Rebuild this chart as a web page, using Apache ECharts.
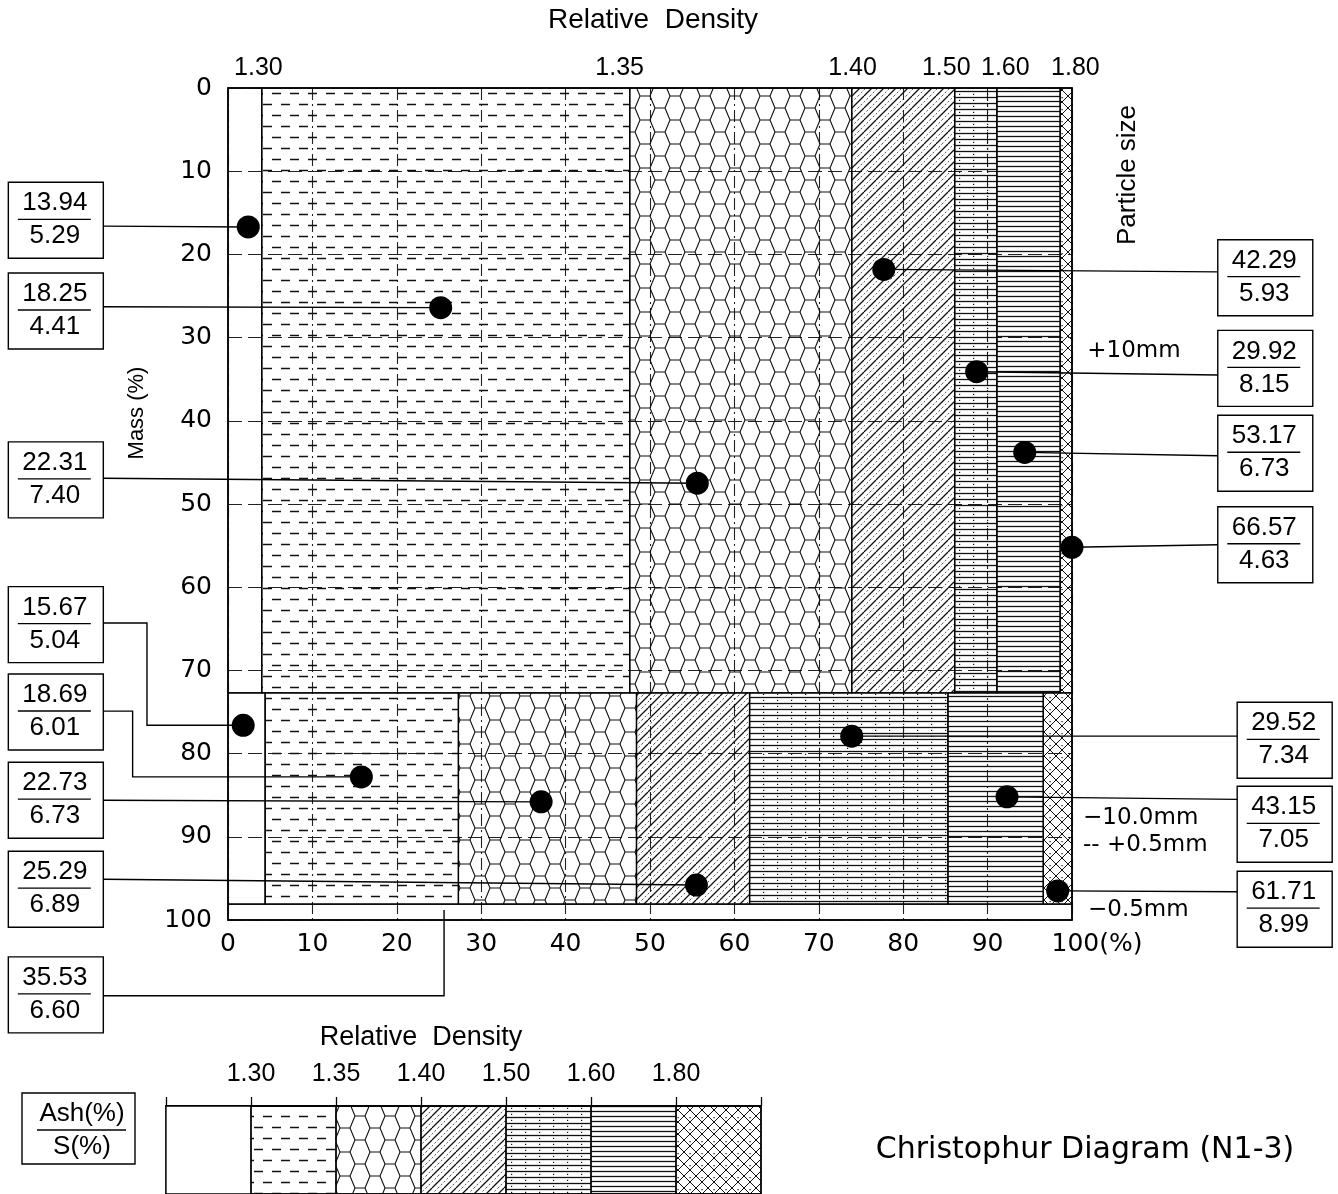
<!DOCTYPE html>
<html>
<head>
<meta charset="utf-8">
<script src="https://cdn.jsdelivr.net/npm/echarts@6/dist/echarts.min.js"></script>
<style>
  html, body { margin: 0; padding: 0; background: #fff; }
  #chart { width: 1338px; height: 1194px; }
</style>
</head>
<body>
<div id="chart"></div>
<script>
// ---- data ---------------------------------------------------------------
// Relative-density cut points
const densityLabels = ['1.30', '1.35', '1.40', '1.50', '1.60', '1.80'];
// Cumulative yield (%) at each density cut, per size class
const coarseCuts = [4.0, 47.6, 73.9, 86.1, 91.1, 98.6, 100];   // +10mm
const mediumCuts = [4.4, 27.3, 48.4, 61.8, 85.3, 96.6, 100];   // -10.0mm +0.5mm
// Mass share (%) of each size class: +10mm, -10.0+0.5mm, -0.5mm
const sizeClassMass = [72.7, 25.4, 1.9];

// Fraction points: Ash (%) over S (%)
const ashValues    = [13.94, 18.25, 22.31, 42.29, 29.92, 53.17, 66.57, 15.67, 18.69, 22.73, 25.29, 29.52, 43.15, 61.71];
const sulfurValues = [5.29, 4.41, 7.40, 5.93, 8.15, 6.73, 4.63, 5.04, 6.01, 6.73, 6.89, 7.34, 7.05, 8.99];
const pointX       = [2.4, 25.2, 55.6, 77.7, 88.7, 94.4, 100.0, 1.8, 15.8, 37.1, 55.5, 73.9, 92.3, 98.3];
const pointY       = [16.7, 26.4, 47.5, 21.8, 34.1, 43.8, 55.2, 76.6, 82.8, 85.8, 95.8, 77.9, 85.2, 96.5];
// -0.5mm fines
const finesAsh = 35.53;
const finesSulfur = 6.60;
const finesPoint = [25.6, 98.8];

// ---- layout of the callout boxes (axis units) ----------------------------
const L_X = -20.4, RU_X = 122.9, RL_X = 125.2;
const calloutLayout = [
  { bx: L_X,  by: 15.9, ly: 16.6 },
  { bx: L_X,  by: 26.8, ly: 26.3 },
  { bx: L_X,  by: 47.1, ly: 46.9 },
  { bx: RU_X, by: 22.8, ly: 22.1 },
  { bx: RU_X, by: 33.7, ly: 34.5 },
  { bx: RU_X, by: 43.9, ly: 44.2 },
  { bx: RU_X, by: 54.9, ly: 54.9 },
  { bx: L_X,  by: 64.5, ly: 64.3, ex: -9.6 },
  { bx: L_X,  by: 75.0, ly: 74.9, ex: -11.3 },
  { bx: L_X,  by: 85.6, ly: 85.6 },
  { bx: L_X,  by: 96.3, ly: 95.1 },
  { bx: RL_X, by: 78.4, ly: 77.9 },
  { bx: RL_X, by: 88.5, ly: 85.5 },
  { bx: RL_X, by: 98.7, ly: 96.6 },
  { bx: L_X,  by: 109.0, ly: 109.1, ex: 25.6 }   // fines
];
// where the density labels sit along the top edge
const topLabelAt = [3.6, 46.4, 74.0, 85.1, 92.1, 100.4];

// ---- hatch patterns ------------------------------------------------------
const INK = '#111';
function tile(w, h, draw) {
  const c = document.createElement('canvas');
  c.width = w; c.height = h;
  const ctx = c.getContext('2d');
  ctx.strokeStyle = INK; ctx.fillStyle = INK; ctx.lineWidth = 1;
  draw(ctx, w, h);
  return { image: c, repeat: 'repeat' };
}
const dashFill = tile(18, 22, (ctx) => {
  ctx.lineWidth = 1.3;
  ctx.beginPath();
  ctx.moveTo(2, 5.5); ctx.lineTo(11, 5.5);
  ctx.moveTo(11, 16.5); ctx.lineTo(18, 16.5);
  ctx.moveTo(0, 16.5); ctx.lineTo(2, 16.5);
  ctx.stroke();
});
const hexFill = tile(30, 24, (ctx) => {
  const s = 10, h = 12;
  ctx.lineWidth = 1.1;
  const hex = (cx, cy) => {
    ctx.moveTo(cx - s, cy); ctx.lineTo(cx - s / 2, cy - h); ctx.lineTo(cx + s / 2, cy - h);
    ctx.lineTo(cx + s, cy); ctx.lineTo(cx + s / 2, cy + h); ctx.lineTo(cx - s / 2, cy + h); ctx.closePath();
  };
  ctx.beginPath();
  [[0, 0], [30, 0], [0, 24], [30, 24], [15, 12]].forEach(p => hex(p[0], p[1]));
  ctx.stroke();
});
const diagFill = tile(12, 12, (ctx) => {
  ctx.lineWidth = 1.3;
  ctx.beginPath();
  [-12, 0, 12].forEach(k => { ctx.moveTo(k, 12); ctx.lineTo(k + 12, 0); });
  ctx.stroke();
  ctx.lineWidth = 0.7; ctx.setLineDash([2, 2]);
  ctx.beginPath();
  [-6, 6].forEach(k => { ctx.moveTo(k, 12); ctx.lineTo(k + 12, 0); });
  ctx.stroke();
});
const hDotFill = tile(14, 6, (ctx) => {
  ctx.lineWidth = 1.3;
  ctx.beginPath(); ctx.moveTo(0, 1.5); ctx.lineTo(14, 1.5); ctx.stroke();
  ctx.fillRect(7, 3.8, 1.2, 1.2);
});
const hLineFill = tile(10, 5, (ctx) => {
  ctx.lineWidth = 1.3;
  ctx.beginPath(); ctx.moveTo(0, 1.5); ctx.lineTo(10, 1.5); ctx.stroke();
});
const crossFill = tile(12, 12, (ctx) => {
  ctx.lineWidth = 1;
  ctx.beginPath();
  [-12, 0, 12].forEach(k => {
    ctx.moveTo(k, 12); ctx.lineTo(k + 12, 0);
    ctx.moveTo(k, 0); ctx.lineTo(k + 12, 12);
  });
  ctx.stroke();
  ctx.fillRect(5.5, 1, 1.2, 1.2);
});
const fills = [null, dashFill, hexFill, diagFill, hDotFill, hLineFill, crossFill];

// ---- band table built from the cuts -------------------------------------
const bands = [];
const classTop = [0, sizeClassMass[0], sizeClassMass[0] + sizeClassMass[1]];
[coarseCuts, mediumCuts].forEach((cuts, c) => {
  const y0 = classTop[c], y1 = classTop[c] + sizeClassMass[c];
  cuts.forEach((x1, i) => {
    const x0 = i === 0 ? 0 : cuts[i - 1];
    bands.push([x0, x1, y0, y1, i]);
  });
});
bands.push([0, 100, classTop[2], classTop[2] + sizeClassMass[2], 0]);

const calloutData = pointX.map((x, i) => [x, pointY[i]]).concat([finesPoint]);
const calloutAsh = ashValues.concat([finesAsh]);
const calloutS = sulfurValues.concat([finesSulfur]);

const SANS = 'Liberation Sans';
const WIDE = 'DejaVu Sans';

const chart = echarts.init(document.getElementById('chart'), null, { renderer: 'canvas' });
chart.setOption({
  animation: false,
  backgroundColor: '#fff',
  grid: [
    { left: 228, top: 88, width: 844, height: 832, show: true, borderColor: '#000', borderWidth: 1.6, backgroundColor: 'transparent' },
    { left: 166, top: 1106, width: 595, height: 120, show: true, borderColor: '#000', borderWidth: 1.4, backgroundColor: 'transparent' }
  ],
  xAxis: [
    {
      gridIndex: 0, type: 'value', min: 0, max: 100, interval: 10, position: 'bottom',
      axisLine: { show: false }, axisTick: { show: false },
      axisLabel: {
        margin: 12, color: '#000', fontFamily: WIDE, fontSize: 25,
        formatter: v => v === 100 ? '{s| }100(%)' : String(v),
        rich: { s: { width: 50 } }
      },
      splitLine: { show: true, lineStyle: { color: '#222', width: 1.1, type: [12, 4, 2, 4] } }
    },
    {
      gridIndex: 1, type: 'value', min: 0, max: 7, interval: 1, position: 'top',
      axisLine: { show: true, lineStyle: { color: '#000', width: 1.6 } },
      axisTick: { show: true, length: 9, lineStyle: { color: '#000', width: 1.3 } },
      axisLabel: {
        margin: 19, color: '#000', fontFamily: SANS, fontSize: 25,
        formatter: v => (v >= 1 && v <= densityLabels.length) ? densityLabels[v - 1] : ''
      },
      splitLine: { show: false }
    }
  ],
  yAxis: [
    {
      gridIndex: 0, type: 'value', inverse: true, min: 0, max: 100, interval: 10,
      axisLine: { show: false }, axisTick: { show: false },
      axisLabel: { margin: 16, color: '#000', fontFamily: WIDE, fontSize: 25 },
      splitLine: { show: true, lineStyle: { color: '#222', width: 1.2, type: [14, 6] } }
    },
    { gridIndex: 1, type: 'value', min: 0, max: 1, inverse: true, show: false }
  ],
  series: [
    {
      name: 'fractions', type: 'custom', xAxisIndex: 0, yAxisIndex: 0, z: 2,
      data: bands,
      renderItem(params, api) {
        const p0 = api.coord([api.value(0), api.value(2)]);
        const p1 = api.coord([api.value(1), api.value(3)]);
        const f = fills[api.value(4)];
        return {
          type: 'rect',
          shape: { x: p0[0], y: p0[1], width: p1[0] - p0[0], height: p1[1] - p0[1] },
          style: { fill: f || 'none', stroke: '#000', lineWidth: 1.3 }
        };
      }
    },
    {
      name: 'density ticks', type: 'custom', xAxisIndex: 0, yAxisIndex: 0, z: 3,
      data: topLabelAt.map((x, i) => [x, 0, i]),
      renderItem(params, api) {
        const p = api.coord([api.value(0), api.value(1)]);
        return {
          type: 'text', x: p[0], y: p[1] - 20,
          style: { text: densityLabels[params.dataIndex], fontFamily: SANS, fontSize: 25, fill: '#000', align: 'center', verticalAlign: 'middle' }
        };
      }
    },
    {
      name: 'callouts', type: 'custom', xAxisIndex: 0, yAxisIndex: 0, z: 4,
      data: calloutData,
      renderItem(params, api) {
        const i = params.dataIndex;
        const L = calloutLayout[i];
        const end = api.coord([api.value(0), api.value(1)]);
        const box = api.coord([L.bx, L.by]);
        const ly = api.coord([0, L.ly])[1];
        const W = 95, H = 76;
        const ax = L.bx < 0 ? box[0] + W / 2 : box[0] - W / 2;
        const pts = [[ax, ly]];
        if (L.ex !== undefined) {
          const ex = api.coord([L.ex, 0])[0];
          pts.push([ex, ly], [ex, end[1]]);
        }
        pts.push(end);
        const txt = (t, dy) => ({
          type: 'text', x: box[0] - 1, y: box[1] + dy,
          style: { text: t, fontFamily: SANS, fontSize: 26, fill: '#000', align: 'center', verticalAlign: 'middle' }
        });
        return {
          type: 'group',
          children: [
            { type: 'polyline', shape: { points: pts }, style: { stroke: '#000', lineWidth: 1.4, fill: 'none' } },
            { type: 'rect', shape: { x: box[0] - W / 2, y: box[1] - H / 2, width: W, height: H }, style: { fill: '#fff', stroke: '#000', lineWidth: 1.4 } },
            { type: 'line', shape: { x1: box[0] - 38, y1: box[1] - 1, x2: box[0] + 35, y2: box[1] - 1 }, style: { stroke: '#000', lineWidth: 1.3 } },
            txt(calloutAsh[i].toFixed(2), -17),
            txt(calloutS[i].toFixed(2), 16)
          ]
        };
      }
    },
    {
      name: 'points', type: 'scatter', xAxisIndex: 0, yAxisIndex: 0, z: 5, clip: false,
      symbol: 'circle', symbolSize: 23,
      itemStyle: { color: '#000', opacity: 1 },
      data: pointX.map((x, i) => [x, pointY[i]])
    },
    {
      name: 'key', type: 'custom', xAxisIndex: 1, yAxisIndex: 1, z: 2,
      data: fills.map((f, i) => [i, i + 1]),
      renderItem(params, api) {
        const p0 = api.coord([api.value(0), 0]);
        const p1 = api.coord([api.value(1), 1]);
        const f = fills[params.dataIndex];
        return {
          type: 'rect',
          shape: { x: p0[0], y: p0[1], width: p1[0] - p0[0], height: p1[1] - p0[1] },
          style: { fill: f || '#fff', stroke: '#000', lineWidth: 1.3 }
        };
      }
    }
  ],
  graphic: [
    { type: 'text', x: 653, y: 20, style: { text: 'Relative  Density', fontFamily: SANS, fontSize: 28, fill: '#000', align: 'center', verticalAlign: 'middle' } },
    { type: 'text', x: 1128, y: 175, rotation: Math.PI / 2, style: { text: 'Particle size', fontFamily: SANS, fontSize: 26, fill: '#000', align: 'center', verticalAlign: 'middle' } },
    { type: 'text', x: 137, y: 413, rotation: Math.PI / 2, style: { text: 'Mass (%)', fontFamily: SANS, fontSize: 22, fill: '#000', align: 'center', verticalAlign: 'middle' } },
    { type: 'text', x: 1134, y: 351, style: { text: '+10mm', fontFamily: WIDE, fontSize: 23, fill: '#000', align: 'center', verticalAlign: 'middle' } },
    { type: 'text', x: 1083, y: 818, style: { text: '\u221210.0mm', fontFamily: WIDE, fontSize: 23, fill: '#000', align: 'left', verticalAlign: 'middle' } },
    { type: 'text', x: 1083, y: 845, style: { text: '-- +0.5mm', fontFamily: WIDE, fontSize: 23, fill: '#000', align: 'left', verticalAlign: 'middle' } },
    { type: 'text', x: 1088, y: 910, style: { text: '\u22120.5mm', fontFamily: WIDE, fontSize: 23, fill: '#000', align: 'left', verticalAlign: 'middle' } },
    { type: 'text', x: 421, y: 1038, style: { text: 'Relative  Density', fontFamily: SANS, fontSize: 27, fill: '#000', align: 'center', verticalAlign: 'middle' } },
    { type: 'text', x: 1085, y: 1150, style: { text: 'Christophur Diagram (N1-3)', fontFamily: WIDE, fontSize: 30, fill: '#000', align: 'center', verticalAlign: 'middle' } },
    {
      type: 'group', x: 22, y: 1093,
      children: [
        { type: 'rect', shape: { x: 0, y: 0, width: 113, height: 71 }, style: { fill: '#fff', stroke: '#000', lineWidth: 1.4 } },
        { type: 'line', shape: { x1: 15, y1: 37, x2: 104, y2: 37 }, style: { stroke: '#000', lineWidth: 1.3 } },
        { type: 'text', x: 60, y: 21, style: { text: 'Ash(%)', fontFamily: SANS, fontSize: 26, fill: '#000', align: 'center', verticalAlign: 'middle' } },
        { type: 'text', x: 60, y: 54, style: { text: 'S(%)', fontFamily: SANS, fontSize: 26, fill: '#000', align: 'center', verticalAlign: 'middle' } }
      ]
    }
  ]
});
</script>
</body>
</html>
